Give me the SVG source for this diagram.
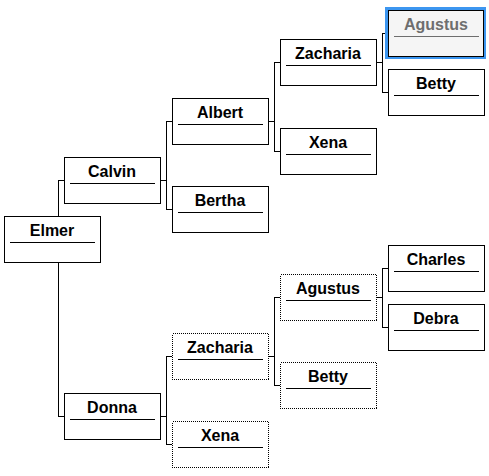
<svg xmlns="http://www.w3.org/2000/svg" width="489" height="476" viewBox="0 0 489 476">
<style>
.box{fill:#fff;stroke:#000;stroke-width:1}
.dot{fill:#fff;stroke:#000;stroke-width:1;stroke-dasharray:1 1;shape-rendering:crispEdges}
.t{font-family:"Liberation Sans",Arial,sans-serif;font-size:16px;font-weight:bold;text-anchor:middle;fill:#000}
.u{stroke:#000;stroke-width:1}
.c{fill:none;stroke:#000;stroke-width:1}
.sel .t{fill:#6e6e6e}
.sel .u{stroke:#6e6e6e}
</style>
<rect width="489" height="476" fill="#fff"/>
<g id="connectors" class="c">
<path d="M58.5 180.5V416.5M58 180.5H64M58 416.5H64"/>
<path d="M160 180.5H166.5M166.5 121.5V209.5M166 121.5H172M166 209.5H172"/>
<path d="M160 416.5H166.5M166.5 356.5V444.5M166 356.5H172M166 444.5H172"/>
<path d="M268 121.5H274.5M274.5 62.5V151.5M274 62.5H280M274 151.5H280"/>
<path d="M268 356.5H274.5M274.5 297.5V385.5M274 297.5H280M274 385.5H280"/>
<path d="M376 62.5H382.5M382.5 33.5V92.5M382 33.5H388M382 92.5H388"/>
<path d="M376 297.5H382.5M382.5 268.5V327.5M382 268.5H388M382 327.5H388"/>
</g>
<g id="elmer"><rect class="box" x="4.5" y="216.5" width="96" height="46"/><text class="t" x="52" y="236">Elmer</text><line class="u" x1="10" y1="242.5" x2="95" y2="242.5"/></g>
<g id="calvin"><rect class="box" x="64.5" y="157.5" width="96" height="46"/><text class="t" x="112" y="177">Calvin</text><line class="u" x1="70" y1="183.5" x2="155" y2="183.5"/></g>
<g id="donna"><rect class="box" x="64.5" y="393.5" width="96" height="46"/><text class="t" x="112" y="413">Donna</text><line class="u" x1="70" y1="419.5" x2="155" y2="419.5"/></g>
<g id="albert"><rect class="box" x="172.5" y="98.5" width="96" height="46"/><text class="t" x="220" y="118">Albert</text><line class="u" x1="178" y1="124.5" x2="263" y2="124.5"/></g>
<g id="bertha"><rect class="box" x="172.5" y="186.5" width="96" height="46"/><text class="t" x="220" y="206">Bertha</text><line class="u" x1="178" y1="212.5" x2="263" y2="212.5"/></g>
<g id="zacharia1"><rect class="box" x="280.5" y="39.5" width="96" height="46"/><text class="t" x="328" y="59">Zacharia</text><line class="u" x1="286" y1="65.5" x2="371" y2="65.5"/></g>
<g id="xena1"><rect class="box" x="280.5" y="128.5" width="96" height="46"/><text class="t" x="328" y="148">Xena</text><line class="u" x1="286" y1="154.5" x2="371" y2="154.5"/></g>
<g id="agustus1" class="sel"><rect x="386.5" y="8.5" width="98" height="49" fill="none" stroke="#3c96f0" stroke-width="3"/><rect class="box" x="388.5" y="10.5" width="95" height="46" style="fill:#f5f5f5"/><text class="t" x="436" y="30">Agustus</text><line class="u" x1="394" y1="36.5" x2="479" y2="36.5"/></g>
<g id="betty1"><rect class="box" x="388.5" y="69.5" width="96" height="46"/><text class="t" x="436" y="89">Betty</text><line class="u" x1="394" y1="95.5" x2="479" y2="95.5"/></g>
<g id="zacharia2"><rect class="dot" x="172.5" y="333.5" width="96" height="46"/><text class="t" x="220" y="353">Zacharia</text><line class="u" x1="178" y1="359.5" x2="263" y2="359.5"/></g>
<g id="xena2"><rect class="dot" x="172.5" y="421.5" width="96" height="46"/><text class="t" x="220" y="441">Xena</text><line class="u" x1="178" y1="447.5" x2="263" y2="447.5"/></g>
<g id="agustus2"><rect class="dot" x="280.5" y="274.5" width="96" height="46"/><text class="t" x="328" y="294">Agustus</text><line class="u" x1="286" y1="300.5" x2="371" y2="300.5"/></g>
<g id="betty2"><rect class="dot" x="280.5" y="362.5" width="96" height="46"/><text class="t" x="328" y="382">Betty</text><line class="u" x1="286" y1="388.5" x2="371" y2="388.5"/></g>
<g id="charles"><rect class="box" x="388.5" y="245.5" width="96" height="46"/><text class="t" x="436" y="265">Charles</text><line class="u" x1="394" y1="271.5" x2="479" y2="271.5"/></g>
<g id="debra"><rect class="box" x="388.5" y="304.5" width="96" height="46"/><text class="t" x="436" y="324">Debra</text><line class="u" x1="394" y1="330.5" x2="479" y2="330.5"/></g>
</svg>
